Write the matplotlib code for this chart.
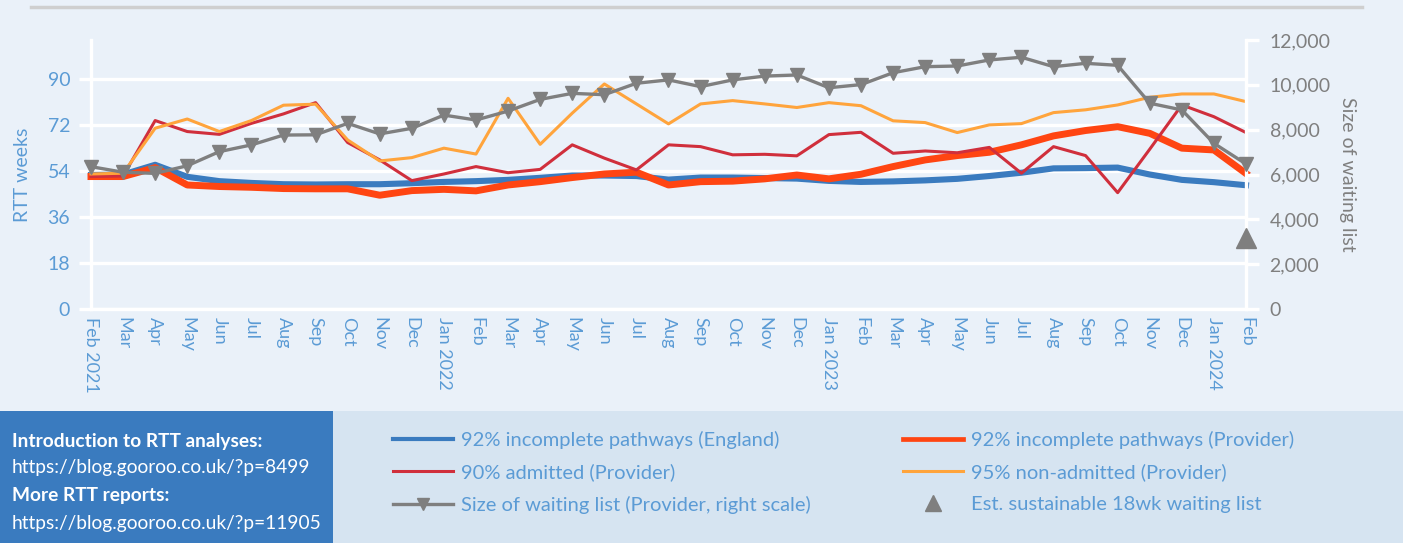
import matplotlib.pyplot as plt
from matplotlib.lines import Line2D
from matplotlib.patches import Rectangle

plt.rcParams['font.family'] = ['Lato', 'DejaVu Sans']

months = ["Feb 2021", "Mar", "Apr", "May", "Jun", "Jul", "Aug", "Sep", "Oct", "Nov", "Dec",
          "Jan 2022", "Feb", "Mar", "Apr", "May", "Jun", "Jul", "Aug", "Sep", "Oct", "Nov", "Dec",
          "Jan 2023", "Feb", "Mar", "Apr", "May", "Jun", "Jul", "Aug", "Sep", "Oct", "Nov", "Dec",
          "Jan 2024", "Feb"]

# RTT weeks at the 92nd / 90th / 95th percentile
england_92 = [52.4, 52.6, 56.4, 51.7, 50.0, 49.3, 48.8, 48.7, 48.8, 48.8, 49.2, 49.7,
              50.0, 50.5, 51.3, 52.2, 52.2, 52.0, 50.6, 51.4, 51.4, 51.2, 51.0, 50.1,
              49.7, 49.9, 50.3, 50.9, 52.0, 53.3, 55.0, 55.1, 55.3, 52.6, 50.5, 49.6, 48.4]
provider_92 = [51.8, 51.8, 55.3, 48.5, 47.9, 47.6, 47.1, 47.0, 47.0, 44.5, 46.3, 46.8,
               46.2, 48.5, 49.8, 51.4, 52.8, 53.5, 48.5, 49.8, 50.0, 50.9, 52.4, 50.9,
               52.7, 55.7, 58.3, 60.0, 61.3, 64.2, 67.7, 69.8, 71.3, 68.7, 62.9, 62.2, 53.0]
admitted_90 = [51.8, 52.0, 73.7, 69.4, 68.3, 72.6, 76.3, 80.7, 65.1, 58.3, 50.2, 52.8,
               55.7, 53.3, 54.6, 64.2, 59.0, 54.4, 64.2, 63.5, 60.3, 60.5, 59.9, 68.2,
               69.1, 60.9, 61.8, 61.1, 63.2, 53.1, 63.5, 60.0, 45.5, 62.5, 79.8, 75.2, 69.0]
non_admitted_95 = [52.8, 53.1, 70.7, 74.3, 69.4, 73.7, 79.7, 80.1, 66.1, 57.9, 59.2, 62.9,
                   60.6, 82.4, 64.4, 76.6, 88.0, 80.2, 72.4, 80.2, 81.5, 80.2, 78.8, 80.7,
                   79.5, 73.6, 72.9, 69.0, 72.0, 72.5, 76.8, 77.9, 79.8, 82.8, 84.1, 84.1, 81.1]
# waiting list size (right scale)
waiting_list = [6350, 6100, 6050, 6390, 7020, 7320, 7760, 7770, 8280, 7810, 8060, 8650,
                8430, 8830, 9350, 9620, 9560, 10070, 10220, 9920, 10220, 10390, 10440, 9870,
                10010, 10540, 10810, 10840, 11110, 11230, 10810, 10960, 10870, 9180, 8880, 7390, 6470]
sustainable_18wk = 3150

left_ticks = [0, 18, 36, 54, 72, 90]
right_ticks = [0, 2000, 4000, 6000, 8000, 10000, 12000]

bg = '#eaf1f9'
c_blue = '#3a7bbf'
c_orangered = '#ff4512'
c_red = '#d02f3c'
c_orange = '#ffa43c'
c_grey = '#7f7f7f'
c_label = '#5b9bd5'

W, H = 1403, 543
fig = plt.figure(figsize=(W / 100, H / 100), dpi=100, facecolor=bg)

# page decorations: rule at the top, info box and legend panel at the bottom
fig.add_artist(Line2D([31 / W, 1362 / W], [1 - 7 / H, 1 - 7 / H], color='#cfcfcf', lw=2.5))
fig.add_artist(Rectangle((333 / W, 0), 1 - 333 / W, 132 / H, color='#d6e4f1', lw=0))
fig.add_artist(Rectangle((0, 0), 333 / W, 132 / H, color=c_blue, lw=0))

ax = fig.add_axes([91 / W, 1 - 309 / H, (1246 - 91) / W, (309 - 40) / H])
ax.set_facecolor(bg)
x = list(range(len(months)))

l1, = ax.plot(x, england_92, color=c_blue, lw=4.4, zorder=2, clip_on=False)
l2, = ax.plot(x, provider_92, color=c_orangered, lw=5.0, zorder=3, clip_on=False)
l3, = ax.plot(x, admitted_90, color=c_red, lw=2.2, zorder=4, clip_on=False)
l4, = ax.plot(x, non_admitted_95, color=c_orange, lw=2.2, zorder=5, clip_on=False)

ax.set_xlim(0, len(months) - 1)
ax.set_ylim(0, 105.2)
ax.set_yticks(left_ticks)
ax.yaxis.grid(True, color='white', lw=2.4)
ax.set_axisbelow(True)
ax.set_xticks(x)
ax.set_xticklabels(months, rotation=270, fontsize=13, color=c_label, va='top', ha='center')
ax.tick_params(axis='x', length=0, pad=6)
ax.tick_params(axis='y', length=9, width=2.4, color='white', labelsize=14,
               labelcolor=c_label, pad=6)
for s in ['top', 'right']:
    ax.spines[s].set_visible(False)
for s in ['left', 'bottom']:
    ax.spines[s].set_color('white')
    ax.spines[s].set_linewidth(2.4)
ax.set_ylabel('RTT weeks', fontsize=14, color=c_label, labelpad=12)

ax2 = ax.twinx()
l5, = ax2.plot(x, waiting_list, color=c_grey, lw=2.4, marker='v', ms=10, clip_on=False, zorder=6)
l6, = ax2.plot([x[-1]], [sustainable_18wk], color=c_grey, lw=0, marker='^', ms=15,
               clip_on=False, zorder=6)
ax2.set_ylim(0, 12000)
ax2.set_yticks(right_ticks)
ax2.set_yticklabels([f'{v:,}' for v in right_ticks])
ax2.tick_params(axis='y', length=9, width=2.4, color='white', labelsize=14,
                labelcolor=c_grey, pad=8)
for s in ['top', 'left', 'bottom']:
    ax2.spines[s].set_visible(False)
ax2.spines['right'].set_color('white')
ax2.spines['right'].set_linewidth(2.4)
ax2.set_ylabel('Size of waiting list', fontsize=14, color=c_grey, rotation=270, labelpad=18)

labels = ['92% incomplete pathways (England)', '90% admitted (Provider)',
          'Size of waiting list (Provider, right scale)', '92% incomplete pathways (Provider)',
          '95% non-admitted (Provider)', 'Est. sustainable 18wk waiting list']
leg = fig.legend([l1, l3, l5, l2, l4, l6], labels, ncol=2, loc='upper left',
                 bbox_to_anchor=(393 / W, 1 - 431 / H), frameon=False, fontsize=14.5,
                 handlelength=3.0, handletextpad=0.4, columnspacing=4.55, labelspacing=0.72,
                 borderaxespad=0, borderpad=0)
for t in leg.get_texts():
    t.set_color(c_label)
for h, w in zip(leg.legend_handles, [3.0, 2.2, 2.4, 3.4, 2.2, 0]):
    h.set_linewidth(w)
leg.legend_handles[2].set_markersize(9)
leg.legend_handles[5].set_markersize(11)

info = [('Introduction to RTT analyses:', 'bold', 441),
        ('https://blog.gooroo.co.uk/?p=8499', 'normal', 468),
        ('More RTT reports:', 'bold', 496),
        ('https://blog.gooroo.co.uk/?p=11905', 'normal', 524)]
for txt, wt, yy in info:
    fig.text(12 / W, 1 - yy / H, txt, color='white', fontsize=13.8, fontweight=wt, va='center')

fig.savefig('out.png', dpi=100, facecolor=bg)
